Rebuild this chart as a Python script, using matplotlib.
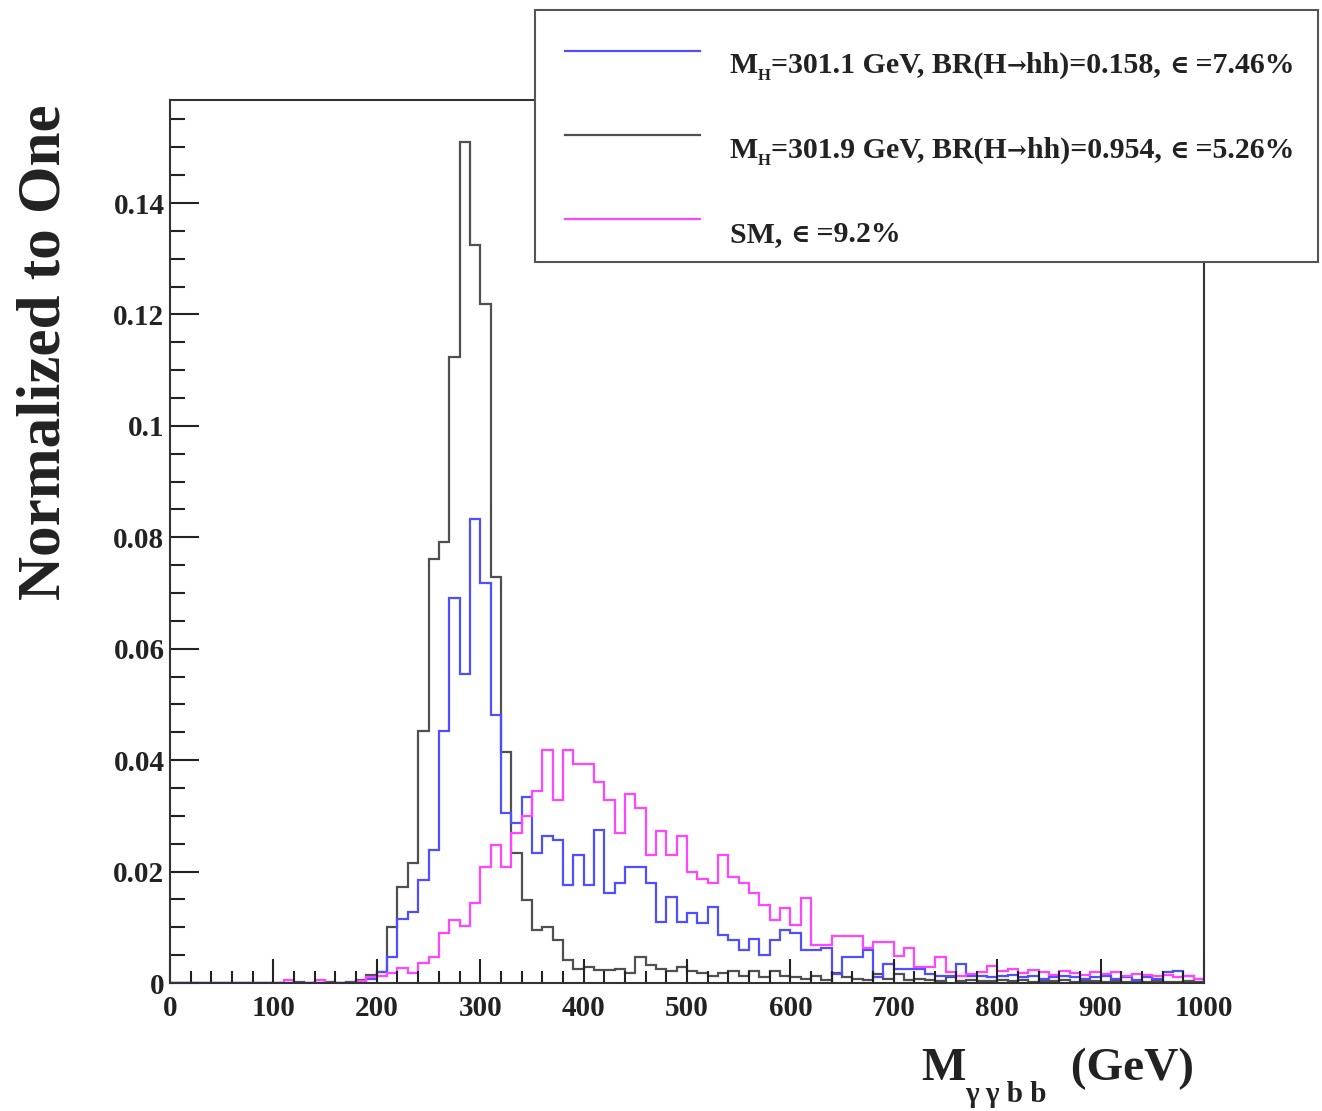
import numpy as np
import matplotlib
matplotlib.use("Agg")
import matplotlib.pyplot as plt
from matplotlib.patches import Rectangle
from matplotlib.lines import Line2D

# 100 bins of 10 GeV from 0 to 1000
bin_edges = np.arange(0, 1001, 10)

# M_H=301.9 GeV sample (grey/black)
h_black = [0, 0, 0, 0, 0, 0, 0, 0, 0, 0,
           0, 0, 0.0002, 0, 0, 0.0002, 0, 0.0002, 0.0006, 0.0015,
           0.0020, 0.0101, 0.0173, 0.0216, 0.0452, 0.0761, 0.0792, 0.1124, 0.1509, 0.1325,
           0.1219, 0.0729, 0.0415, 0.0233, 0.0149, 0.0096, 0.0100, 0.0077, 0.0041, 0.0026,
           0.0028, 0.0024, 0.0024, 0.0026, 0.0018, 0.0046, 0.0032, 0.0026, 0.0021, 0.0028,
           0.0021, 0.0018, 0.0012, 0.0018, 0.0021, 0.0012, 0.0021, 0.0010, 0.0021, 0.0012,
           0.0010, 0.0008, 0.0012, 0.0006, 0.0018, 0.0010, 0.0008, 0.0006, 0.0016, 0.0008,
           0.0016, 0.0005, 0.0008, 0.0006, 0.0004, 0.0010, 0.0003, 0.0005, 0.0004, 0.0003,
           0.0006, 0.0003, 0.0005, 0.0002, 0.0004, 0.0003, 0.0005, 0.0002, 0.0003, 0.0004,
           0.0002, 0.0003, 0.0002, 0.0004, 0.0002, 0.0003, 0.0001, 0.0002, 0.0003, 0.0001]

# M_H=301.1 GeV sample (blue)
h_blue = [0, 0, 0, 0, 0, 0, 0, 0, 0, 0,
          0, 0, 0, 0, 0, 0, 0, 0, 0.0003, 0.0008,
          0.0020, 0.0046, 0.0115, 0.0128, 0.0185, 0.0239, 0.0452, 0.0691, 0.0555, 0.0833,
          0.0718, 0.0481, 0.0305, 0.0287, 0.0334, 0.0233, 0.0263, 0.0257, 0.0176, 0.0230,
          0.0176, 0.0275, 0.0161, 0.0179, 0.0209, 0.0209, 0.0179, 0.0110, 0.0155, 0.0110,
          0.0126, 0.0108, 0.0137, 0.0086, 0.0077, 0.0059, 0.0079, 0.0050, 0.0077, 0.0095,
          0.0089, 0.0059, 0.0059, 0.0062, 0.0017, 0.0046, 0.0046, 0.0059, 0.0010, 0.0035,
          0.0025, 0.0025, 0.0025, 0.0017, 0.0013, 0.0013, 0.0035, 0.0013, 0.0012, 0.0010,
          0.0012, 0.0015, 0.0010, 0.0012, 0.0008, 0.0010, 0.0012, 0.0010, 0.0008, 0.0010,
          0.0012, 0.0008, 0.0010, 0.0006, 0.0010, 0.0008, 0.0020, 0.0021, 0.0012, 0.0008]

# SM sample (magenta)
h_sm = [0, 0, 0, 0, 0, 0, 0, 0, 0, 0,
        0, 0.0006, 0, 0, 0.0005, 0, 0, 0, 0.0003, 0.0010,
        0.0013, 0.0018, 0.0027, 0.0018, 0.0036, 0.0047, 0.0090, 0.0113, 0.0102, 0.0143,
        0.0209, 0.0248, 0.0209, 0.0270, 0.0300, 0.0345, 0.0419, 0.0328, 0.0419, 0.0394,
        0.0394, 0.0360, 0.0328, 0.0269, 0.0339, 0.0314, 0.0230, 0.0272, 0.0230, 0.0263,
        0.0200, 0.0186, 0.0179, 0.0230, 0.0191, 0.0179, 0.0161, 0.0140, 0.0113, 0.0135,
        0.0105, 0.0152, 0.0068, 0.0069, 0.0084, 0.0084, 0.0084, 0.0062, 0.0074, 0.0074,
        0.0048, 0.0062, 0.0029, 0.0029, 0.0047, 0.0020, 0.0012, 0.0017, 0.0020, 0.0030,
        0.0022, 0.0025, 0.0018, 0.0024, 0.0020, 0.0015, 0.0022, 0.0018, 0.0014, 0.0020,
        0.0016, 0.0019, 0.0012, 0.0016, 0.0014, 0.0012, 0.0015, 0.0010, 0.0012, 0.0008]

col_black = '#505050'
col_blue = '#4f4fff'
col_sm = '#ff45ff'

serif = ['Liberation Serif', 'DejaVu Serif']
dv = ['DejaVu Serif']


def mh_row(mass, br, eff):
    return [('M', 21.5, 0, serif), ('H', 12, -7, serif),
            ('=%s GeV, BR(H' % mass, 21.5, 0, serif), ('\u2192', 17, 0, dv),
            ('hh)=%s, ' % br, 21.5, 0, serif), ('\u2208', 19, 0, dv),
            (' =%s%%' % eff, 21.5, 0, serif)]


legend_rows = [
    (col_blue, mh_row('301.1', '0.158', '7.46')),
    (col_black, mh_row('301.9', '0.954', '5.26')),
    (col_sm, [('SM, ', 21.5, 0, serif), ('\u2208', 19, 0, dv), (' =9.2%', 21.5, 0, serif)]),
]

W, H = 1322, 1111

fig = plt.figure(figsize=(W / 100, H / 100), dpi=100)
ax = fig.add_axes([170 / W, 1 - 983 / H, (1204 - 170) / W, (983 - 100) / H])

ax.stairs(h_black, bin_edges, color=col_black, lw=1.6)
ax.stairs(h_blue, bin_edges, color=col_blue, lw=1.6)
ax.stairs(h_sm, bin_edges, color=col_sm, lw=1.6)

ax.set_xlim(0, 1000)
ax.set_ylim(0, 0.1585)
ax.set_xticks(np.arange(0, 1001, 100))
ax.set_xticks(np.arange(0, 1001, 20), minor=True)
ax.set_yticks(np.arange(0, 0.141, 0.02))
ax.set_yticks(np.arange(0, 0.156, 0.005), minor=True)
ax.set_yticklabels(['0', '0.02', '0.04', '0.06', '0.08', '0.1', '0.12', '0.14'])
ax.tick_params(axis='both', which='both', direction='in', top=False, right=False,
               width=1.5, colors='#222222')
ax.tick_params(axis='y', which='major', length=21, pad=4)
ax.tick_params(axis='y', which='minor', length=11)
ax.tick_params(axis='x', which='major', length=17, pad=9)
ax.tick_params(axis='x', which='minor', length=8.5)
for lab in ax.get_xticklabels() + ax.get_yticklabels():
    lab.set_family(serif)
    lab.set_fontweight('bold')
    lab.set_fontsize(21)
    lab.set_color('#222222')
for sp in ax.spines.values():
    sp.set_linewidth(1.5)
    sp.set_color('#333333')

fig.text(45 / W, 1 - 352 / H, 'Normalized to One', rotation=90, ha='center', va='center',
         family=serif, fontweight='bold', fontsize=44, color='#222222')

renderer = fig.canvas.get_renderer()


def put_pieces(x, y, pieces):
    # place text pieces one after another (x, y in pixels, y from top)
    for s, size, dy, fam in pieces:
        t = fig.text(x / W, 1 - (y - dy) / H, s, ha='left', va='baseline', family=fam,
                     fontweight='bold', fontsize=size, color='#222222', zorder=5)
        x += t.get_window_extent(renderer=renderer).width


# x axis title
put_pieces(921, 1080, [('M', 34, 0, serif), ('\u03b3 \u03b3 b b', 21, -22, serif),
                       ('  (GeV)', 34, 0, serif)])

# legend box
fig.patches.append(Rectangle((535 / W, 1 - 262 / H), (1318 - 535) / W, (262 - 10) / H,
                             transform=fig.transFigure, facecolor='white',
                             edgecolor='#555555', lw=1.5, zorder=3))
line_y = [51, 135, 219]
text_y = [73, 158, 242]
for (c, pieces), ly, ty in zip(legend_rows, line_y, text_y):
    fig.lines.append(Line2D([565 / W, 700 / W], [1 - ly / H, 1 - ly / H], color=c, lw=1.6,
                            transform=fig.transFigure, zorder=4))
    put_pieces(730, ty, pieces)

fig.savefig('out.png', dpi=100)
